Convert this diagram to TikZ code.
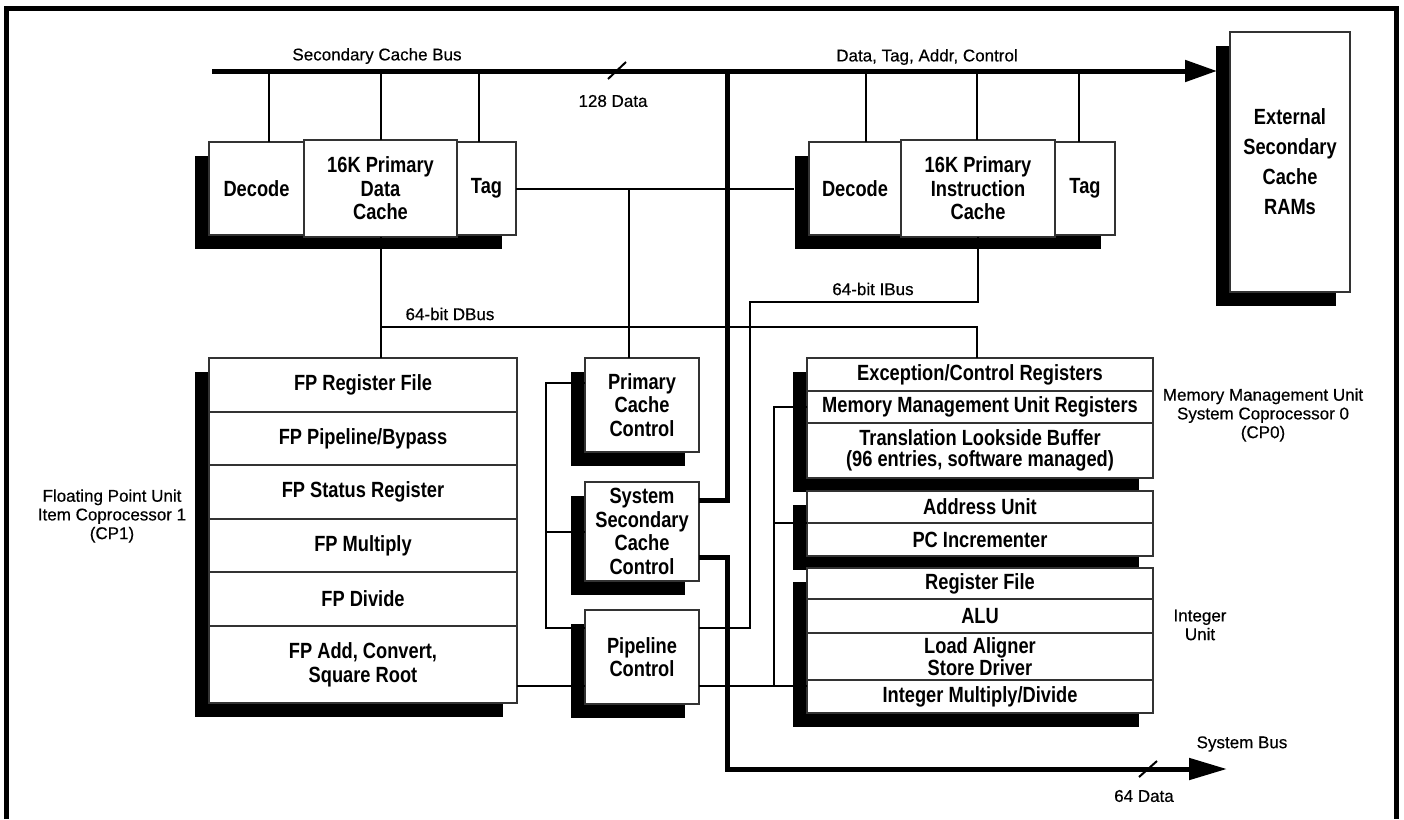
\documentclass[tikz,border=0pt]{standalone}
\usepackage{fontspec}
\setmainfont{Liberation Sans}[FakeBold=0.4]
\newfontfamily\boxfont[FakeStretch=0.83]{Liberation Sans}
\usetikzlibrary{arrows.meta,backgrounds}
\newcommand{\unitfont}{\boxfont\bfseries\fontsize{22}{23.5}\selectfont}
\newcommand{\labelfont}{\fontsize{17}{18.7}\selectfont}

\begin{document}
\begin{tikzpicture}[x=1pt, y=-1pt,
  unit/.style={draw=black!80, line width=1.2pt, fill=white, inner sep=0pt, outer sep=0pt, align=center, font=\unitfont},
  link/.style={line width=2pt},
  busline/.style={line width=5pt},
  buslabel/.style={font=\labelfont, align=center, inner sep=0pt},
  busarrow/.style={-{Triangle[length=#1,width=21pt]}}]

\useasboundingbox (0,0) rectangle (1404,819);

% Frame
\draw[line width=5pt] (6.5,819) -- (6.5,8.5) -- (1396.5,8.5) -- (1396.5,819);

% Primary data cache
\node[unit, minimum width=95pt, minimum height=93pt] at (256.5,188.5) (DDec) {Decode};
\node[unit, minimum width=153pt, minimum height=97pt] at (380.5,188.5) (DMain) {16K Primary\\Data\\Cache};
\node[unit, minimum width=59pt, minimum height=93pt] at (486.5,188.5) (DTag) {Tag};

% Primary instruction cache
\node[unit, minimum width=92pt, minimum height=93pt] at (855,188.5) (IDec) {Decode};
\node[unit, minimum width=154pt, minimum height=97pt] at (978,188.5) (IMain) {16K Primary\\Instruction\\Cache};
\node[unit, minimum width=60pt, minimum height=93pt] at (1085,188.5) (ITag) {Tag};

% External RAMs
\node[unit, minimum width=120pt, minimum height=260pt, font=\unitfont\fontsize{22}{30}\selectfont] at (1290,162) (Ext) {External\\Secondary\\Cache\\RAMs};

% Floating point unit
\node[unit, minimum width=308pt, minimum height=54pt] at (363,385) (FPreg) {FP Register File};
\node[unit, minimum width=308pt, minimum height=53pt] at (363,438.5) (FPpipe) {FP Pipeline/Bypass};
\node[unit, minimum width=308pt, minimum height=54pt] at (363,492) (FPstat) {FP Status Register};
\node[unit, minimum width=308pt, minimum height=53pt] at (363,545.5) (FPmul) {FP Multiply};
\node[unit, minimum width=308pt, minimum height=54pt] at (363,599) (FPdiv) {FP Divide};
\node[unit, minimum width=308pt, minimum height=77pt, font=\unitfont\fontsize{22}{24}\selectfont] at (363,664.5) (FPadd) {FP Add, Convert,\\Square Root};

% Control blocks
\node[unit, minimum width=114pt, minimum height=94pt] at (642,405) (PCC) {Primary\\Cache\\Control};
\node[unit, minimum width=114pt, minimum height=99pt] at (642,531.5) (SSC) {System\\Secondary\\Cache\\Control};
\node[unit, minimum width=114pt, minimum height=94pt] at (642,657) (PLC) {Pipeline\\Control};

% System coprocessor 0
\node[unit, minimum width=346pt, minimum height=33pt] at (980,374.5) (CPexc) {Exception/Control Registers};
\node[unit, minimum width=346pt, minimum height=32pt] at (980,407) (CPmmu) {Memory Management Unit Registers};
\node[unit, minimum width=346pt, minimum height=55pt, font=\unitfont\fontsize{22}{21}\selectfont] at (980,450.5) (CPtlb) {Translation Lookside Buffer\\(96 entries, software managed)};
\node[unit, minimum width=346pt, minimum height=32pt] at (980,507) (AdU) {Address Unit};
\node[unit, minimum width=346pt, minimum height=33pt] at (980,539.5) (AdPC) {PC Incrementer};

% Integer unit
\node[unit, minimum width=346pt, minimum height=31pt] at (980,583.5) (IntRF) {Register File};
\node[unit, minimum width=346pt, minimum height=34pt] at (980,616) (IntALU) {ALU};
\node[unit, minimum width=346pt, minimum height=47pt, font=\unitfont\fontsize{22}{22}\selectfont] at (980,656.5) (IntLd) {Load Aligner\\Store Driver};
\node[unit, minimum width=346pt, minimum height=33pt] at (980,696.5) (IntMD) {Integer Multiply/Divide};

% Shadows
\begin{scope}[on background layer]
\fill ([shift={(-14,14)}]DDec.north west) rectangle ([shift={(-14,14)}]DTag.south east);
\fill ([shift={(-14,14)}]IDec.north west) rectangle ([shift={(-14,14)}]ITag.south east);
\fill ([shift={(-14,14)}]Ext.north west) rectangle ([shift={(-14,14)}]Ext.south east);
\fill ([shift={(-14,14)}]FPreg.north west) rectangle ([shift={(-14,14)}]FPadd.south east);
\fill ([shift={(-14,14)}]PCC.north west) rectangle ([shift={(-14,14)}]PCC.south east);
\fill ([shift={(-14,14)}]SSC.north west) rectangle ([shift={(-14,14)}]SSC.south east);
\fill ([shift={(-14,14)}]PLC.north west) rectangle ([shift={(-14,14)}]PLC.south east);
\fill ([shift={(-14,14)}]CPexc.north west) rectangle ([shift={(-14,14)}]CPtlb.south east);
\fill ([shift={(-14,14)}]AdU.north west) rectangle ([shift={(-14,14)}]AdPC.south east);
\fill ([shift={(-14,14)}]IntRF.north west) rectangle ([shift={(-14,14)}]IntMD.south east);
\end{scope}

% Labels
\node[buslabel] at (377,56) (lSCB) {Secondary Cache Bus};
\node[buslabel] at (927,57) (lDTAC) {Data, Tag, Addr, Control};
\node[buslabel] at (613,101) (l128) {128 Data};
\node[buslabel] at (450,314) (lDBus) {64-bit DBus};
\node[buslabel] at (873,289) (lIBus) {64-bit IBus};
\node[buslabel] at (112,516) (lFPU) {Floating Point Unit\\Item Coprocessor 1\\(CP1)};
\node[buslabel] at (1263,415) (lMMU) {Memory Management Unit\\System Coprocessor 0\\(CP0)};
\node[buslabel] at (1200,625) (lInt) {Integer\\Unit};
\node[buslabel] at (1242,744) (lSys) {System Bus};
\node[buslabel] at (1144,796) (l64) {64 Data};

% Secondary cache bus
\coordinate (busL) at (212,71);
\coordinate (busJ) at (727,71);
\draw[busline, busarrow=32pt] (busL) -- ([xshift=-13pt]Ext.west |- busL);
\draw[link] (608,79) -- (626,62);

% Drops to the primary caches
\draw[link] ([xshift=12pt]DDec.north) -- ([xshift=12pt]DDec.north |- busL);
\draw[link] (DMain.north) -- (DMain.north |- busL);
\draw[link] ([xshift=-8pt]DTag.north) -- ([xshift=-8pt]DTag.north |- busL);
\draw[link] ([xshift=11pt]IDec.north) -- ([xshift=11pt]IDec.north |- busL);
\draw[link] ([xshift=-1pt]IMain.north) -- ([xshift=-1pt]IMain.north |- busL);
\draw[link] ([xshift=-6pt]ITag.north) -- ([xshift=-6pt]ITag.north |- busL);

% Tag line
\draw[link] (DTag.east) -- ([xshift=-15pt]IDec.west);
\draw[link] ([xshift=-13pt]PCC.north) -- ([xshift=-13pt]PCC.north |- DTag.east);

% Data bus
\coordinate (dbus) at (380.5,327);
\draw[link] (DMain.south) -- (DMain.south |- FPreg.north);
\draw[link] (dbus) -| ([xshift=-3pt]CPexc.north);

% Instruction bus
\coordinate (ibus) at (750,302);
\draw[link] (IMain.south) |- (ibus) |- ([yshift=29pt]PLC.east);

% Control links
\coordinate (ctl) at (546,628);
\draw[link] ([yshift=22pt]PCC.west) -| (ctl) -- ([yshift=29pt]PLC.west);
\draw[link] (SSC.west) -- (SSC.west -| ctl);

% FPU, pipeline and integer unit
\coordinate (pj) at (774,686);
\draw[link] ([yshift=-21.5pt]FPadd.east) -- ([yshift=-29pt]PLC.west);
\draw[link] ([yshift=-29pt]PLC.east) -- ([yshift=-29pt]PLC.east -| IntMD.west);
\draw[link] (CPmmu.west) -| (pj);
\draw[link] (AdU.south west) -- (AdU.south west -| pj);

% Secondary cache control to the buses
\coordinate (sysEnd) at (1227,769);
\draw[busline] ([yshift=31pt]SSC.east) -| (busJ);
\draw[busline, busarrow=38pt] ([yshift=-26pt]SSC.east) -| (busJ |- sysEnd) -- (sysEnd);
\draw[link] (1139,777) -- (1157,761);

\end{tikzpicture}
\end{document}
